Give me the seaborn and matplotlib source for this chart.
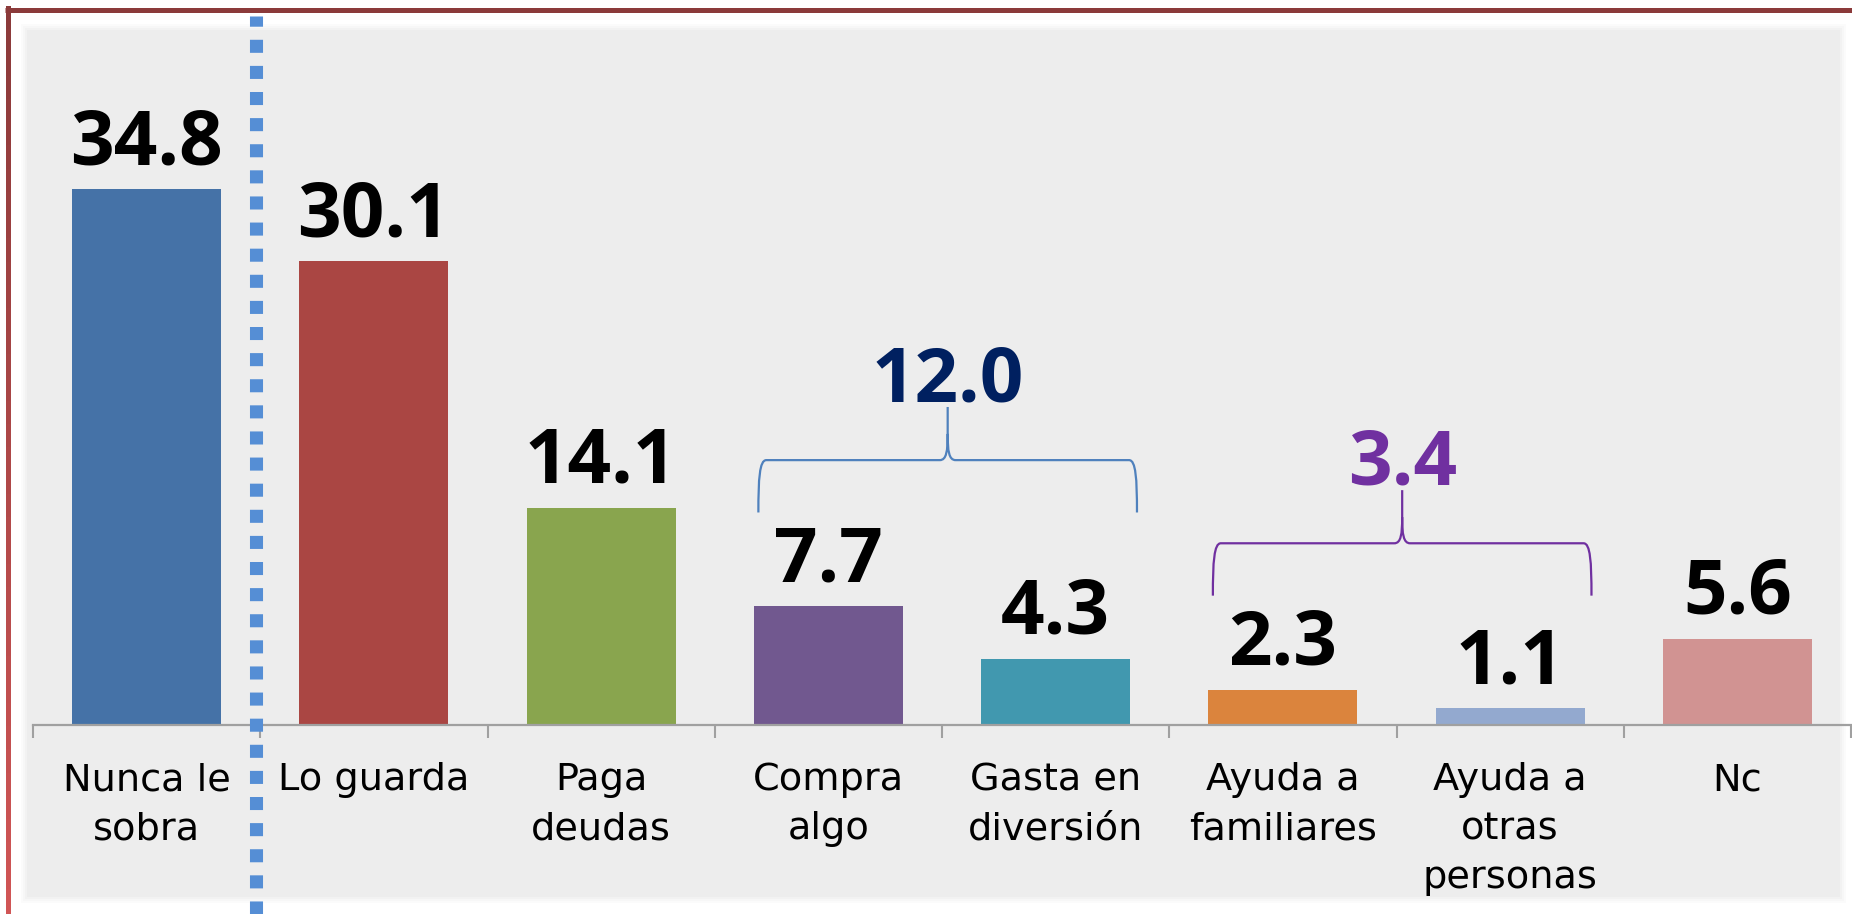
import numpy as np
import pandas as pd
import matplotlib
matplotlib.use("Agg")
import matplotlib.pyplot as plt
import seaborn as sns
from matplotlib.path import Path
from matplotlib.patches import PathPatch, Rectangle
from matplotlib.collections import LineCollection
import matplotlib.transforms as mtransforms

# ---------------- data ----------------
categories = ["Nunca le\nsobra", "Lo guarda", "Paga\ndeudas", "Compra\nalgo",
              "Gasta en\ndiversión", "Ayuda a\nfamiliares", "Ayuda a\notras\npersonas", "Nc"]
values = [34.8, 30.1, 14.1, 7.7, 4.3, 2.3, 1.1, 5.6]
bar_colors = ["#4572A7", "#AA4643", "#89A54E", "#71588F",
              "#4198AF", "#DB843D", "#93A9CF", "#D19392"]
group_spend = [3, 4]      # Compra algo + Gasta en diversión
group_help = [5, 6]       # Ayuda a familiares + Ayuda a otras personas

W, H = 1852, 914
sns.set_theme(style="white")
plt.rcParams["font.family"] = ["DejaVu Sans"]

fig = plt.figure(figsize=(W / 100, H / 100), dpi=100)
fig.patch.set_facecolor("white")

# soft shadow + grey panel
for k, a in [(6, 0.03), (4, 0.04), (2, 0.05)]:
    fig.add_artist(Rectangle(((27 - k) / W, 1 - (897 + k) / H), (1813 + 2 * k) / W, (867 + 2 * k) / H,
                             transform=fig.transFigure, facecolor="#999999", alpha=a,
                             edgecolor="none", zorder=0))
fig.add_artist(Rectangle((27 / W, 1 - 897 / H), 1813 / W, 867 / H, transform=fig.transFigure,
                         facecolor="#EDEDED", edgecolor="none", zorder=0))

# frame lines (top and left)
fig.add_artist(plt.Line2D([5 / W, 1], [1 - 10 / H, 1 - 10 / H], transform=fig.transFigure,
                          color="#8B3A3A", lw=3.6, zorder=1, solid_capstyle="butt"))
ys = np.linspace(1 - 8 / H, 0, 40)
segs = [[(7.5 / W, ys[i]), (7.5 / W, ys[i + 1])] for i in range(len(ys) - 1)]
cmap = matplotlib.colors.LinearSegmentedColormap.from_list("b", ["#8B3A3A", "#D05555"])
lc = LineCollection(segs, colors=[cmap(i / (len(segs) - 1)) for i in range(len(segs))],
                    linewidths=3.6, transform=fig.transFigure, zorder=1, capstyle="projecting",
                    antialiaseds=False)
fig.add_artist(lc)

ax = fig.add_axes([33 / W, (H - 725) / H, 1818 / W, 695 / H])
ax.patch.set_alpha(0)

df = pd.DataFrame({"cat": categories, "val": values})
sns.barplot(data=df, x="cat", y="val", hue="cat", order=categories, hue_order=categories,
            palette=dict(zip(categories, bar_colors)), legend=False, width=0.656,
            saturation=1, linewidth=0, edgecolor="none", ax=ax, zorder=2)

ax.set_xlim(-0.5, len(categories) - 0.5)
ax.set_ylim(0, 695 / 15.4)
ax.set_yticks([])
ax.set_xlabel("")
ax.set_ylabel("")
for s in ["left", "top", "right"]:
    ax.spines[s].set_visible(False)
ax.spines["bottom"].set_color("#A0A0A0")
ax.spines["bottom"].set_linewidth(1.6)
ax.tick_params(axis="x", which="major", bottom=False, length=0, pad=27, labelsize=27.5,
               labelcolor="black")
ax.set_xticks(np.arange(-0.5, len(categories)), minor=True)
ax.tick_params(axis="x", which="minor", bottom=True, length=9.4, width=1.5, color="#A0A0A0",
               direction="out")
for t in ax.get_xticklabels():
    t.set_linespacing(1.45)

for cont in ax.containers:
    ax.bar_label(cont, fmt="%.1f", padding=5, fontsize=55, fontweight="bold",
                 family="Open Sans", color="black")

# braces
half = 0.328

def brace(ax, x0, x1, yb, color):
    yh = yb + 3.4
    yt = yh + 3.45
    c = (x0 + x1) / 2
    dx = 0.035
    verts = [(x0, yb), (x0, yb + 2.2), (x0 + 0.005, yh), (x0 + dx, yh),
             (c - dx, yh), (c - 0.005, yh), (c, yh + 0.6), (c, yh + 1.7),
             (c, yt),
             (c, yh + 1.7), (c, yh + 0.6), (c + 0.005, yh), (c + dx, yh),
             (x1 - dx, yh), (x1 - 0.005, yh), (x1, yb + 2.2), (x1, yb)]
    codes = [Path.MOVETO, Path.CURVE4, Path.CURVE4, Path.CURVE4,
             Path.LINETO, Path.CURVE4, Path.CURVE4, Path.CURVE4,
             Path.LINETO,
             Path.MOVETO, Path.CURVE4, Path.CURVE4, Path.CURVE4,
             Path.LINETO, Path.CURVE4, Path.CURVE4, Path.CURVE4]
    ax.add_patch(PathPatch(Path(verts, codes), facecolor="none", edgecolor=color, lw=1.6,
                           capstyle="butt", zorder=3))
    return c, yt

for grp, lc_, tc in [(group_spend, "#4F81BD", "#002060"), (group_help, "#7030A0", "#7030A0")]:
    x0 = grp[0] - half + 0.02
    x1 = grp[-1] + half + 0.03
    top = max(values[i] for i in grp)
    c, yt = brace(ax, x0, x1, top + 6.1, lc_)
    total = sum(values[i] for i in grp)
    ax.text(c, yt + 0.35, f"{total:.1f}", ha="center", va="baseline", fontsize=55,
            fontweight="bold", family="Open Sans", color=tc, zorder=4)

# dotted separator between first and second category
trans = mtransforms.blended_transform_factory(ax.transData, ax.transAxes)
ax.plot([0.48, 0.48], [(725 - 914) / 695, (725 - 16) / 695], transform=trans, clip_on=False,
        color="#558ED5", lw=9.4, linestyle=(0, (1, 1)), dash_capstyle="butt", zorder=5)

fig.savefig("out.png", dpi=100)
